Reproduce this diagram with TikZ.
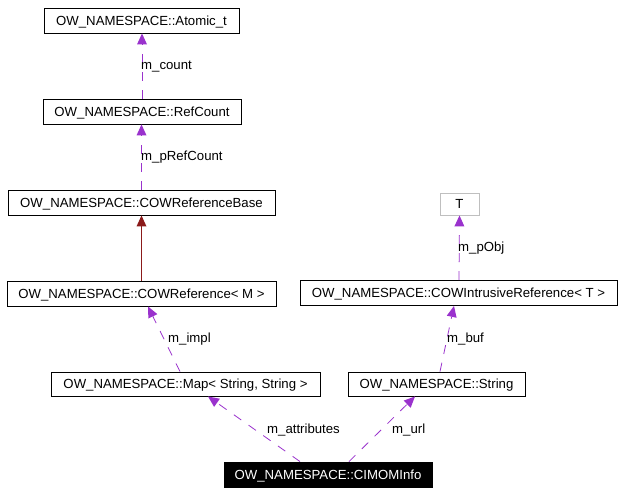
\documentclass[tikz,border=0pt]{standalone}
\usepackage{fontspec}
\setmainfont{Liberation Sans}
\usetikzlibrary{arrows.meta,calc}
\definecolor{dpurple}{HTML}{9A32CD}
\definecolor{dred}{HTML}{8B1A1A}
\definecolor{gborder}{HTML}{BFBFBF}
\tikzset{
  cls/.style={draw=black, line width=0.9pt, fill=white, inner sep=0pt,
    minimum height=25pt, text height=11.5pt, text depth=2pt,
    font=\fontsize{13.2}{15}\selectfont},
  usage/.style={draw=dpurple, line width=0.8pt, dash pattern=on 9pt off 9pt,
    -{Triangle[length=11pt,width=10pt,fill=dpurple,line width=0pt]}},
  inherit/.style={draw=dred, line width=0.8pt,
    -{Triangle[length=11pt,width=10pt,fill=dred,line width=0pt]}},
  elabel/.style={anchor=base west, inner sep=0pt, font=\fontsize{13.2}{15}\selectfont}
}
\begin{document}
\begin{tikzpicture}[x=1pt,y=-1pt]
\useasboundingbox[fill=white] (0,0) rectangle (624,493);

\node[cls, minimum width=195pt] (atomic) at (141.5,20.5) {OW\_NAMESPACE::Atomic\_t};
\node[cls, minimum width=198pt] (refcount) at (142,111.5) {OW\_NAMESPACE::RefCount};
\node[cls, minimum width=267pt] (cowbase) at (141.5,202.5) {OW\_NAMESPACE::COWReferenceBase};
\node[cls, minimum width=269pt] (cowref) at (141.5,293.5) {OW\_NAMESPACE::COWReference< M >};
\node[cls, minimum width=269pt, minimum height=24pt] (map) at (185.5,384) {OW\_NAMESPACE::Map< String, String >};
\node[cls, minimum width=177pt, minimum height=24pt] (string) at (436.5,384) {OW\_NAMESPACE::String};
\node[cls, minimum width=317pt] (cowi) at (458.5,293) {OW\_NAMESPACE::COWIntrusiveReference< T >};
\node[cls, draw=gborder, minimum width=39pt, minimum height=22pt] (tnode) at (459.5,204) {T};
\node[cls, fill=black, text=white, minimum width=208pt] (cimom) at (328,474.5) {OW\_NAMESPACE::CIMOMInfo};

\draw[usage] (refcount.north) -- (refcount.north |- atomic.south);
\draw[usage] (cowbase.north) -- (cowbase.north |- refcount.south);
\draw[inherit] (cowref.north) -- (cowref.north |- cowbase.south);
\draw[usage] ([xshift=-5.5pt]map.north) -- ([xshift=6.5pt]cowref.south);
\draw[usage] ([xshift=-28pt]cimom.north) -- ([xshift=22.5pt]map.south);
\draw[usage] ([xshift=21pt]cimom.north) -- ([xshift=-21.5pt]string.south);
\draw[usage] ([xshift=3.5pt]string.north) -- ([xshift=-4.5pt]cowi.south);
\draw[usage] ([xshift=0.5pt]cowi.north) -- (tnode.south);

\node[elabel] (l1) at (141,69) {m\_count};
\node[elabel] (l2) at (141,160) {m\_pRefCount};
\node[elabel] (l3) at (168,342) {m\_impl};
\node[elabel] (l4) at (267,433) {m\_attributes};
\node[elabel] (l5) at (392,433) {m\_url};
\node[elabel] (l6) at (447,342) {m\_buf};
\node[elabel] (l7) at (458,251) {m\_pObj};
\end{tikzpicture}
\end{document}
